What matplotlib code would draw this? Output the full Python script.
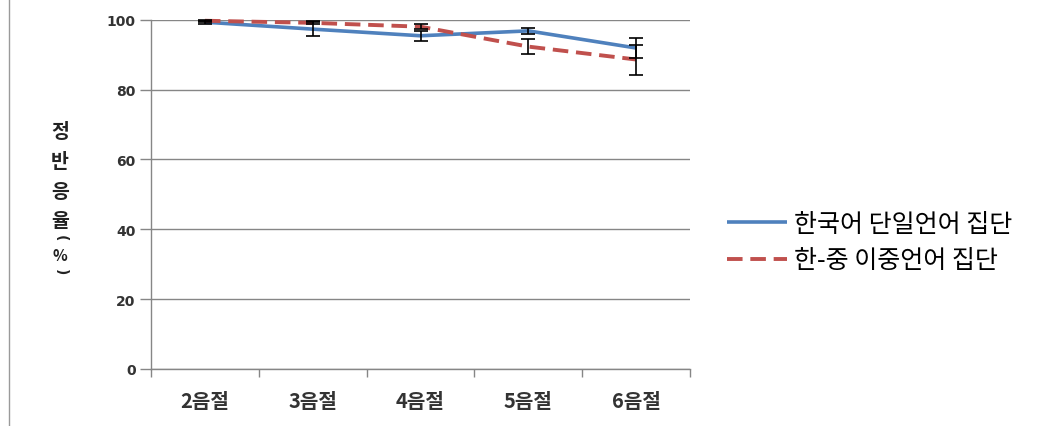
import matplotlib
matplotlib.use("Agg")
import matplotlib.pyplot as plt
from matplotlib.lines import Line2D
import numpy as np

plt.rcParams['font.family'] = ['Noto Sans CJK KR', 'DejaVu Sans']

# Data
categories = ['2음절', '3음절', '4음절', '5음절', '6음절']
mono_values = [99.3, 97.3, 95.4, 96.8, 91.9]
mono_err = [0.4, 2.1, 1.5, 0.9, 2.9]
bi_values = [99.7, 99.1, 98.0, 92.3, 88.6]
bi_err = [0.3, 0.4, 0.7, 2.2, 4.3]
series_labels = ['한국어 단일언어 집단', '한-중 이중언어 집단']
y_ticks = [0, 20, 40, 60, 80, 100]
y_label_chars = ['정', '반', '응', '율', '(', '%', ')']

W, H = 1047, 427
fig = plt.figure(figsize=(W / 100, H / 100), dpi=100)
ax = fig.add_axes([151 / W, 1 - 370 / H, (690 - 151) / W, (370 - 20.7) / H])

x = np.arange(1, len(categories) + 1)
blue = '#4F81BD'
red = '#C0504D'
grid_c = '#868686'

ax.plot(x, mono_values, color=blue, lw=2.6, solid_capstyle='butt', zorder=3,
        label=series_labels[0], clip_on=False)
ax.plot(x, bi_values, color=red, lw=2.8, dashes=(4, 2), zorder=3,
        label=series_labels[1], clip_on=False)
for vals, errs in ((mono_values, mono_err), (bi_values, bi_err)):
    eb = ax.errorbar(x, vals, yerr=errs, fmt='none', ecolor='black',
                     elinewidth=1.2, capsize=4.7, capthick=1.2, zorder=4)
    for art in eb.lines[1] + eb.lines[2]:
        art.set_clip_on(False)

ax.set_xlim(0.5, len(categories) + 0.5)
ax.set_ylim(0, 100)
ax.set_yticks(y_ticks)
ax.set_yticklabels([str(v) for v in y_ticks])
ax.set_xticks(x)
ax.set_xticklabels(categories)
ax.set_xticks(np.arange(0.5, len(categories) + 1, 1), minor=True)

ax.yaxis.grid(True, color=grid_c, lw=1.0)
ax.set_axisbelow(True)
for s in ('top', 'right'):
    ax.spines[s].set_visible(False)
for s in ('left', 'bottom'):
    ax.spines[s].set_color(grid_c)
    ax.spines[s].set_linewidth(1.0)

ax.tick_params(axis='y', direction='out', length=8, width=1, color=grid_c,
               pad=3, labelsize=10, labelcolor='#333333')
for t in ax.get_yticklabels():
    t.set_family(['DejaVu Sans'])
    t.set_fontweight('bold')
ax.tick_params(axis='x', which='major', length=0, pad=15, labelsize=14.5,
               labelcolor='#333333')
ax.tick_params(axis='x', which='minor', direction='out', length=6, width=1,
               color=grid_c)
for t in ax.get_xticklabels():
    t.set_fontweight('bold')

# Stacked vertical axis title (brackets turned sideways, as in stacked text)
y_pos = [133, 163, 192, 222, 238, 256, 272]
for ch, yp in zip(y_label_chars, y_pos):
    if ch in '()':
        fig.text(61 / W, 1 - yp / H, ch, ha='center', va='center',
                 fontsize=10, fontweight='bold', color='#222222',
                 rotation=-90, family=['DejaVu Sans'])
    else:
        fig.text(60 / W, 1 - yp / H, ch, ha='center', va='center',
                 fontsize=14 if ch != '%' else 11, fontweight='bold',
                 color='#222222')

# Legend
ax.legend(loc='center left', bbox_to_anchor=(727 / W, 1 - 243 / H),
          bbox_transform=fig.transFigure, frameon=False, fontsize=18,
          handlelength=2.4, handletextpad=0.3, labelspacing=0.42,
          borderaxespad=0, borderpad=0)

# Left page border
fig.add_artist(Line2D([9 / W, 9 / W], [0, 1], transform=fig.transFigure,
                      color='#9a9a9a', lw=1.0))

fig.savefig('out.png', dpi=100, facecolor='white')
